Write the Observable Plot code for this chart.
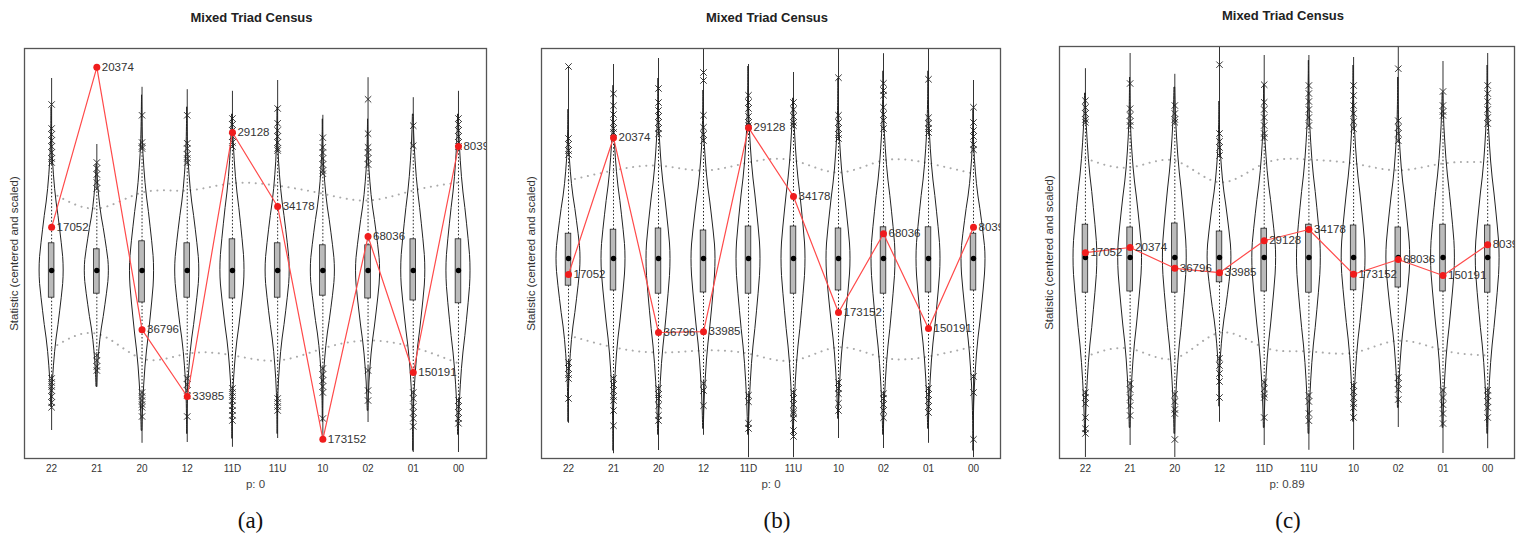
<!DOCTYPE html>
<html><head><meta charset="utf-8">
<script src="https://cdn.jsdelivr.net/npm/d3@7"></script>
<script src="https://cdn.jsdelivr.net/npm/@observablehq/plot@0.6"></script>
<style>
body{margin:0;background:#fff;width:1524px;height:550px;overflow:hidden;position:relative}
.panel{position:absolute;top:0}
</style></head><body>
<div id="pa" class="panel" style="left:0px"></div>
<div id="pb" class="panel" style="left:510px"></div>
<div id="pc" class="panel" style="left:1030px"></div>
<script>
// ---- data ----
const cats = ["22","21","20","12","11D","11U","10","02","01","00"];
const obsLabels = ["17052","20374","36796","33985","29128","34178","173152","68036","150191","8039"];
const panelTitle = "Mixed Triad Census";
const yLabel = "Statistic (centered and scaled)";
const pLabels = ["p: 0", "p: 0", "p: 0.89"];
const tags = ["(a)", "(b)", "(c)"];

// violin profile: offset in (q3-median) units, relative half width
const violinProfile = [[-6,0],[-5,0.03],[-4.5,0.06],[-4,0.11],[-3.5,0.19],[-3,0.28],[-2.5,0.4],[-2,0.57],[-1.5,0.7],[-1,0.83],[-0.5,0.96],[0,1],[0.5,0.96],[1,0.83],[1.5,0.7],[2,0.57],[2.5,0.4],[3,0.28],[3.5,0.19],[4,0.11],[4.5,0.06],[5,0.03],[6,0]];

// Panel (a)
const aObs   = [1.08, 5.08, -1.48, -3.15, 3.45, 1.6, -4.22, 0.85, -2.55, 3.1];
const aUpper = [1.95, 1.55, 1.95, 2.0, 2.18, 2.12, 1.92, 1.75, 2.0, 2.2];
const aLower = [-1.95, -1.58, -2.2, -2.08, -2.12, -2.25, -1.95, -1.75, -1.92, -2.32];
const aMed   = [0, 0, 0, 0, 0, 0, 0, 0, 0, 0];
const aQ3    = [0.68, 0.53, 0.73, 0.68, 0.78, 0.68, 0.63, 0.63, 0.78, 0.78];
const aQ1    = [-0.68, -0.58, -0.8, -0.68, -0.7, -0.68, -0.63, -0.7, -0.75, -0.82];
const aMax   = [4.8, 3.15, 4.58, 4.52, 4.48, 4.75, 3.88, 4.82, 4.32, 4.48];
const aMin   = [-4.0, -2.92, -4.32, -4.3, -4.42, -4.2, -4.2, -3.8, -4.55, -4.55];
const aWHi   = [2.62, 2.0, 3.0, 2.65, 3.05, 2.95, 2.38, 2.6, 3.05, 3.05];
const aWLo   = [-2.62, -2.05, -3.0, -2.65, -2.9, -3.1, -2.38, -2.4, -3.0, -3.2];
const aOutHi = [
  [4.15, 3.55, 3.4, 3.25, 3.1, 2.95, 2.8, 2.7],
  [2.7, 2.55, 2.4, 2.2, 2.05],
  [3.88, 3.2, 3.1, 3.05],
  [3.88, 3.18, 3.05, 2.9, 2.8, 2.7],
  [3.8, 3.65, 3.5, 3.35, 3.2, 3.1],
  [4.05, 3.68, 3.5, 3.35, 3.2, 3.05, 3.0],
  [3.32, 3.08, 2.95, 2.8, 2.65, 2.5, 2.42],
  [4.28, 3.42, 3.08, 2.95, 2.8, 2.65],
  [3.62, 3.12],
  [3.8, 3.65, 3.5, 3.35, 3.2, 3.1]
];
const aOutLo = [
  [-2.7, -2.8, -2.9, -3.0, -3.15, -3.3, -3.42],
  [-2.12, -2.25, -2.4, -2.5],
  [-3.05, -3.15, -3.25, -3.35, -3.42, -3.65],
  [-2.7, -2.85, -3.0, -3.12, -3.65],
  [-2.95, -3.05, -3.15, -3.25, -3.38, -3.5, -3.62, -3.75],
  [-3.2, -3.3, -3.4, -3.5],
  [-2.45, -2.6, -2.75, -2.9, -3.05, -3.7],
  [-2.5, -3.0, -3.25],
  [-3.05, -3.2, -3.4, -3.55, -3.7, -3.9],
  [-3.25, -3.4, -3.55, -3.7, -3.82]
];

// Panel (b)
const bObs   = [-0.4, 3.02, -1.85, -1.83, 3.27, 1.55, -1.35, 0.62, -1.75, 0.78];
const bUpper = [1.95, 2.2, 2.32, 2.2, 2.4, 2.45, 2.15, 2.45, 2.38, 2.12];
const bLower = [-1.92, -2.22, -2.35, -2.3, -2.38, -2.55, -2.22, -2.48, -2.45, -2.2];
const bMed   = [0, 0, 0, 0, 0, 0, 0, 0, 0, 0];
const bQ3    = [0.62, 0.72, 0.75, 0.7, 0.8, 0.8, 0.75, 0.78, 0.78, 0.62];
const bQ1    = [-0.68, -0.8, -0.88, -0.85, -0.88, -0.88, -0.8, -0.88, -0.85, -0.8];
const bMax   = [4.8, 4.85, 5.0, 5.4, 4.85, 4.65, 5.3, 5.12, 5.3, 4.45];
const bMin   = [-4.12, -4.88, -4.8, -4.42, -4.98, -4.98, -4.5, -4.75, -4.62, -4.98];
const bWHi   = [2.55, 3.1, 3.08, 2.9, 3.28, 3.28, 2.95, 3.2, 3.1, 2.68];
const bWLo   = [-2.55, -2.95, -3.2, -3.08, -3.38, -3.3, -3.05, -3.32, -3.2, -2.9];
const bOutHi = [
  [4.8, 3.0, 2.85, 2.7, 2.6],
  [4.12, 3.82, 3.6, 3.4, 3.25, 3.15],
  [4.25, 3.9, 3.7, 3.55, 3.4, 3.25, 3.12],
  [4.65, 4.45, 3.58, 3.28, 3.1, 2.95],
  [4.08, 3.9, 3.75, 3.55, 3.4, 3.32],
  [3.9, 3.72, 3.55, 3.4, 3.32],
  [4.52, 3.58, 3.4, 3.25, 3.1, 3.0],
  [4.38, 4.2, 4.08, 3.78, 3.6, 3.45, 3.25],
  [4.48, 3.52, 3.38, 3.25, 3.15],
  [3.78, 3.4, 3.2, 3.05, 2.85, 2.72]
];
const bOutLo = [
  [-2.6, -2.75, -2.9, -3.0, -3.5],
  [-3.0, -3.15, -3.3, -3.45, -3.55, -3.8, -4.18],
  [-3.25, -3.4, -3.5, -3.68, -3.92, -4.05],
  [-3.12, -3.3, -3.68],
  [-3.42, -3.58, -4.12, -4.25],
  [-3.35, -3.5, -3.65, -3.82, -3.88, -4.0, -4.3, -4.45],
  [-3.1, -3.25, -3.38, -3.62, -3.8],
  [-3.38, -3.5, -3.65, -3.8, -3.98],
  [-3.25, -3.4, -3.55, -3.7, -3.85],
  [-2.95, -3.35, -4.52]
];

// Panel (c)
const cObs   = [0.12, 0.25, -0.27, -0.38, 0.42, 0.7, -0.42, -0.05, -0.45, 0.32];
const cUpper = [2.48, 2.25, 2.42, 1.88, 2.35, 2.45, 2.35, 2.18, 2.35, 2.38];
const cLower = [-2.48, -2.28, -2.52, -1.88, -2.25, -2.35, -2.38, -2.08, -2.32, -2.45];
const cMed   = [0, 0, 0, 0, 0, 0, 0, 0, 0, 0];
const cQ3    = [0.82, 0.75, 0.85, 0.65, 0.72, 0.82, 0.8, 0.75, 0.82, 0.8];
const cQ1    = [-0.88, -0.85, -0.88, -0.62, -0.85, -0.88, -0.82, -0.75, -0.85, -0.88];
const cMax   = [4.72, 5.1, 4.58, 5.4, 5.05, 5.05, 5.0, 5.4, 4.9, 5.1];
const cMin   = [-5.0, -4.7, -5.0, -4.12, -4.7, -4.82, -4.82, -4.25, -4.9, -4.78];
const cWHi   = [3.33, 3.25, 3.33, 2.5, 2.95, 3.25, 3.18, 2.88, 3.5, 3.3];
const cWLo   = [-3.33, -3.1, -3.38, -2.48, -3.08, -3.4, -3.15, -2.95, -3.28, -3.28];
const cOutHi = [
  [3.92, 3.75, 3.6, 3.45, 3.38],
  [4.35, 3.72, 3.55, 3.4, 3.3],
  [3.8, 3.6, 3.45, 3.38],
  [4.82, 3.1, 2.9, 2.75, 2.55],
  [4.32, 3.88, 3.7, 3.5, 3.3, 3.1, 3.0],
  [4.3, 4.1, 3.9, 3.7, 3.5, 3.3],
  [4.3, 4.05, 3.8, 3.6, 3.4, 3.22],
  [4.72, 3.42, 3.25, 3.1, 2.92],
  [4.15, 3.8, 3.65, 3.55],
  [4.3, 4.1, 3.9, 3.7, 3.5, 3.35]
];
const cOutLo = [
  [-3.38, -3.5, -3.65, -4.0, -4.28, -4.4],
  [-3.15, -3.3, -3.5, -3.7, -3.95],
  [-3.42, -3.6, -3.8, -3.9, -4.55],
  [-2.52, -2.7, -2.9, -3.1, -3.5],
  [-3.12, -3.28, -3.42, -3.5, -4.0],
  [-3.45, -3.6, -3.9, -4.08],
  [-3.2, -3.35, -3.5, -3.65, -3.75, -4.0],
  [-3.0, -3.15, -3.3, -3.55],
  [-3.32, -3.5, -3.68, -3.9, -4.15],
  [-3.32, -3.45, -3.6, -3.75, -4.0]
];

// ---- drawing ----
const panels = [
  {obs: aObs, up: aUpper, lo: aLower, med: aMed, q3: aQ3, q1: aQ1, max: aMax, min: aMin, wHi: aWHi, wLo: aWLo, outHi: aOutHi, outLo: aOutLo},
  {obs: bObs, up: bUpper, lo: bLower, med: bMed, q3: bQ3, q1: bQ1, max: bMax, min: bMin, wHi: bWHi, wLo: bWLo, outHi: bOutHi, outLo: bOutLo},
  {obs: cObs, up: cUpper, lo: cLower, med: cMed, q3: cQ3, q1: cQ1, max: cMax, min: cMin, wHi: cWHi, wLo: cWLo, outHi: cOutHi, outLo: cOutLo}
];
const layouts = [
  {el: "pa", width: 500, ml: 24, mr: 14, mt: 48, xd: [-0.6, 9.62], yd: [-4.7, 5.55], titleDx: -4, tagDx: -5},
  {el: "pb", width: 500, ml: 31, mr: 10, mt: 48, xd: [-0.6, 9.6], yd: [-5.0, 5.25], titleDx: -4, tagDx: 6},
  {el: "pc", width: 494, ml: 29, mr: 10, mt: 46, xd: [-0.58, 9.6], yd: [-5.025, 5.275], titleDx: -4, tagDx: 1}
];
const H = 550, FRAME_BOTTOM = 458;
const VW = 0.27, BW = 0.062;

panels.forEach((p, k) => {
  const lay = layouts[k];
  const idx = cats.map((_, i) => i);
  const rows = idx.map(i => ({i, med: p.med[i], q1: p.q1[i], q3: p.q3[i], min: p.min[i], max: p.max[i],
    wHi: p.wHi[i], wLo: p.wLo[i], obs: p.obs[i], up: p.up[i], lo: p.lo[i], label: obsLabels[i]}));
  const violin = [];
  rows.forEach(r => {
    violinProfile.forEach(([o, w]) => {
      const y = r.med + o * (o >= 0 ? r.q3 - r.med : r.med - r.q1);
      if (y > r.max || y < r.min) return;
      violin.push({i: r.i, y, x1: r.i - w * VW, x2: r.i + w * VW});
    });
  });
  const outliers = [];
  rows.forEach(r => {
    p.outHi[r.i].forEach(y => outliers.push({i: r.i, y}));
    p.outLo[r.i].forEach(y => outliers.push({i: r.i, y}));
  });
  const chart = Plot.plot({
    width: lay.width, height: H,
    marginLeft: lay.ml, marginRight: lay.mr, marginTop: lay.mt, marginBottom: H - FRAME_BOTTOM,
    style: {fontFamily: "'Liberation Sans', Arial, sans-serif", fontSize: "10px", color: "#333", background: "white", overflow: "visible"},
    x: {domain: lay.xd, ticks: idx, tickFormat: i => cats[i], tickSize: 0, tickPadding: 6, label: null},
    y: {domain: lay.yd, axis: null},
    marks: [
      Plot.line(rows, {x: "i", y: "up", curve: "natural", stroke: "#aaa", strokeWidth: 2, strokeDasharray: "0.1,6.5", strokeLinecap: "round", clip: true}),
      Plot.line(rows, {x: "i", y: "lo", curve: "natural", stroke: "#aaa", strokeWidth: 2, strokeDasharray: "0.1,6.5", strokeLinecap: "round", clip: true}),
      Plot.ruleX(rows, {x: "i", y1: "wHi", y2: "max", stroke: "#333", strokeWidth: 1, clip: true}),
      Plot.ruleX(rows, {x: "i", y1: "wLo", y2: "min", stroke: "#333", strokeWidth: 1, clip: true}),
      Plot.areaX(violin, {y: "y", x1: "x1", x2: "x2", z: "i", curve: "basis", fill: "none", stroke: "#222", strokeWidth: 1, clip: true}),
      Plot.ruleX(rows, {x: "i", y1: "q3", y2: "wHi", stroke: "#222", strokeWidth: 1, strokeDasharray: "1.5,2"}),
      Plot.ruleX(rows, {x: "i", y1: "q1", y2: "wLo", stroke: "#222", strokeWidth: 1, strokeDasharray: "1.5,2"}),
      Plot.rect(rows, {x1: d => d.i - BW, x2: d => d.i + BW, y1: "q1", y2: "q3", fill: "#bbb", stroke: "#222", strokeWidth: 0.8}),
      Plot.dot(rows, {x: "i", y: "med", r: 2.7, fill: "#000", stroke: "none"}),
      Plot.dot(outliers, {x: "i", y: "y", symbol: "times", r: 3, stroke: "#222", strokeWidth: 0.9, clip: true}),
      Plot.line(rows, {x: "i", y: "obs", stroke: "#ff4a4a", strokeWidth: 1.2, clip: true}),
      Plot.dot(rows, {x: "i", y: "obs", r: 3.5, fill: "#f01c1c", stroke: "none"}),
      Plot.text(rows, {x: "i", y: "obs", text: "label", dx: 5, textAnchor: "start", fontSize: 11.5, fill: "#333", clip: true}),
      Plot.frame({stroke: "#555", strokeWidth: 1.3}),
      Plot.text([panelTitle], {text: d => d, frameAnchor: "top", dy: -36, dx: lay.titleDx, fontSize: 13, fontWeight: "bold", fill: "#222"}),
      Plot.text([yLabel], {text: d => d, frameAnchor: "left", textAnchor: "middle", dx: -10, rotate: -90, fontSize: 11.5, fill: "#333"}),
      Plot.text([pLabels[k]], {text: d => d, frameAnchor: "bottom", dy: 29, fontSize: 11.5, fill: "#444"}),
      Plot.text([tags[k]], {text: d => d, frameAnchor: "bottom", dy: 69, dx: lay.tagDx, fontSize: 23, fill: "#111", fontFamily: "'Liberation Serif', 'Times New Roman', serif"})
    ]
  });
  document.getElementById(lay.el).appendChild(chart);
});
</script>
</body></html>
